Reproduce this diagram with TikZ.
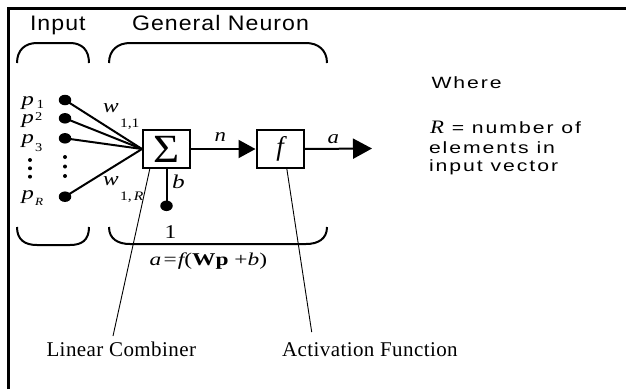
\documentclass[tikz,border=0pt]{standalone}
\usepackage{fontspec}
\usepackage{graphicx}
\setmainfont{Liberation Serif}
\newfontfamily\sansbig[LetterSpace=5,FakeStretch=1.1]{Liberation Sans}
\newfontfamily\sanssm[LetterSpace=12,FakeStretch=1.3]{Liberation Sans}
\newfontfamily\mserif[FakeStretch=1.2]{Liberation Serif}
\newfontfamily\pserif[FakeStretch=1.3]{Liberation Serif}
\newfontfamily\formfont[FakeStretch=1.3]{Liberation Serif}
\newfontfamily\labserif[LetterSpace=2]{Liberation Serif}
\usetikzlibrary{arrows.meta,shapes.geometric}
\newcommand{\fsz}[1]{\fontsize{#1}{#1}\selectfont}
\begin{document}
\begin{tikzpicture}[x=1pt,y=-1pt,
  wire/.style={line width=2pt},
  pointer/.style={line width=0.9pt},
  bracket/.style={line width=2pt},
  box/.style={draw,line width=2pt,minimum width=47pt,minimum height=38pt,inner sep=0pt},
  bigdot/.style={fill,ellipse,minimum width=12.5pt,minimum height=10.5pt,inner sep=0pt},
  txt/.style={inner sep=0pt,outer sep=0pt,anchor=base west},
  tipA/.style={-{Triangle[length=17pt,width=18pt]}},
  tipB/.style={-{Triangle[length=19pt,width=20pt]}}
]
\useasboundingbox (0,0) rectangle (626,389);
\fill[white] (0,0) rectangle (626,389);
% frame
\draw[line width=2.5pt] (8.7,389) -- (8.7,8.3) -- (626,8.3);

% titles
\node[txt] (tin) at (30,30) {\fsz{21}\sansbig Input};
\node[txt] (tgn) at (132,30.5) {\fsz{21}\sansbig General Neuron};

% brackets
\draw[bracket] (17,63) .. controls (17,50) and (25,43) .. (37,43) -- (70,43) .. controls (82,43) and (89,50) .. (89,63);
\draw[bracket] (109,63) .. controls (109,50) and (118,43) .. (130,43) -- (306,43) .. controls (318,43) and (327,50) .. (327,63);
\draw[bracket] (17,227) .. controls (17,240) and (25,245) .. (37,245) -- (70,245) .. controls (82,245) and (89,240) .. (89,227);
\draw[bracket] (109,227) .. controls (109,239) and (118,244) .. (130,244) -- (306,244) .. controls (318,244) and (327,239) .. (327,227);

% boxes
\node[box] (sum) at (166.5,149) {\fsz{40}\scalebox{1.12}[1]{Σ}};
\node[box] (act) at (280,149) {\fsz{27}\itshape f};

% input dots
\node[bigdot] (d1) at (65,100) {};
\node[bigdot] (d2) at (65,118.3) {};
\node[bigdot] (d3) at (65,138.3) {};
\node[bigdot] (dR) at (65,196.7) {};
\foreach \yy in {157,166.5,176} \fill (65,\yy) circle[radius=2pt];
\foreach \yy in {160,168.3,176.7} \fill (30,\yy) circle[radius=2pt];

% input labels
\node[txt] (p1) at (21.5,105.5) {\fsz{19}\pserif\itshape p};
\node[txt] (s1) at (36.5,108) {\fsz{12.5}\mserif 1};
\node[txt] (p2) at (21.5,123.5) {\fsz{19}\pserif\itshape p};
\node[txt] (s2) at (35,120) {\fsz{12}\mserif 2};
\node[txt] (p3) at (21.5,143) {\fsz{19}\pserif\itshape p};
\node[txt] (s3) at (35,151.7) {\fsz{12}\mserif 3};
\node[txt] (pR) at (21.5,199.5) {\fsz{19}\pserif\itshape p};
\node[txt] (sR) at (35,205) {\fsz{11}\mserif\itshape R};

% weights
\draw[wire] (d1.center) -- (sum.west);
\draw[wire] (d2.center) -- (sum.west);
\draw[wire] (d3.center) -- (sum.west);
\draw[wire] (dR.center) -- (sum.west);
\node[txt] (w1) at (103,112) {\fsz{19.5}\mserif\itshape w};
\node[txt] (w1s) at (120,127) {\fsz{13}\mserif 1,1};
\node[txt] (wR) at (103,185) {\fsz{19.5}\mserif\itshape w};
\node[txt] (wRs) at (120,200) {\fsz{13}\mserif 1,\,\itshape R};

% bias
\node[bigdot] (db) at (166.5,205.8) {};
\draw[wire] (sum.south) -- (db.center);
\node[txt] (bl) at (172,188.3) {\fsz{19.5}\pserif\itshape b};
\node[txt] (one) at (164.5,238.3) {\fsz{19.5}\mserif 1};

% n and a
\draw[wire,tipA] (sum.east) -- (act.west);
\node[txt] (nl) at (214.5,141.7) {\fsz{19}\mserif\itshape n};
\coordinate (out) at (372,148.5);
\draw[wire,tipB] (act.east) -- (out);
\node[txt] (al) at (327.5,143) {\fsz{19}\mserif\itshape a};

% formula
\node[txt] (form) at (149.5,265.5) {\fsz{18}\formfont{\itshape a}\kern2.5pt=\kern1pt{\itshape f}(\textbf{Wp} +{\itshape b})};

% pointers
\coordinate (lcA) at (150,168);
\coordinate (lcB) at (113,336);
\coordinate (afA) at (286.7,168);
\coordinate (afB) at (311.7,332);
\draw[pointer] (lcA) -- (lcB);
\draw[pointer] (afA) -- (afB);
\node[txt] (lin) at (46.5,356.7) {\fsz{21}\labserif Linear Combiner};
\node[txt] (actl) at (282,356.7) {\fsz{21}\labserif Activation Function};

% where
\node[txt] (wh) at (431.5,88) {\fsz{16.3}\sanssm Where};
\node[txt] (r1) at (430,133.3) {\fsz{19}\mserif\itshape R\fsz{16.3}\sanssm\upshape{} = number of};
\node[txt] (r2) at (429,153.3) {\fsz{16.3}\sanssm elements in};
\node[txt] (r3) at (429,171.7) {\fsz{16.3}\sanssm input vector};
\end{tikzpicture}
\end{document}
